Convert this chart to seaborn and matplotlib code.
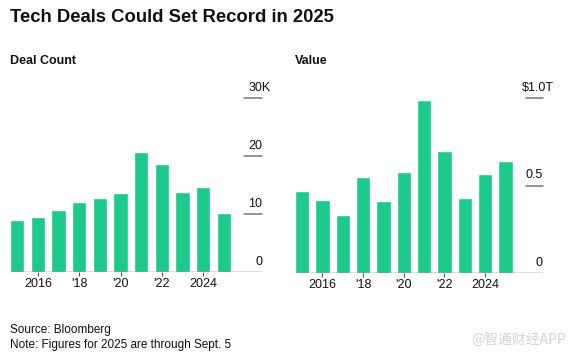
# Tech deals: contagem e valor por ano
import matplotlib
matplotlib.use("Agg")
import matplotlib.pyplot as plt
import seaborn as sns
import pandas as pd

# Dados
anos = [2015, 2016, 2017, 2018, 2019, 2020, 2021, 2022, 2023, 2024, 2025]
contagem = [9.0, 9.5, 10.7, 12.1, 12.8, 13.7, 20.7, 18.6, 13.8, 14.7, 10.1]   # milhares
valor = [0.47, 0.42, 0.33, 0.55, 0.41, 0.58, 0.99, 0.70, 0.43, 0.565, 0.64]    # US$ tri
x_ticks = [2016, 2018, 2020, 2022, 2024]
x_labels = ["2016", "'18", "'20", "'22", "2024"]
y_ticks_count = [0, 10, 20, 30]
y_labels_count = ["0", "10", "20", "30K"]
y_ticks_val = [0, 0.5, 1.0]
y_labels_val = ["0", "0.5", "$1.0T"]

sns.set_theme(style="white")
plt.rcParams['font.family'] = ['Liberation Sans', 'DejaVu Sans']

verde = "#1ec98c"
W, H = 572, 358
fig = plt.figure(figsize=(W / 100, H / 100), dpi=100)
fig.patch.set_facecolor("white")

df = pd.DataFrame({"ano": anos, "contagem": contagem, "valor": valor})


def painel(rect, col, ymax, ticks, labels, titulo, pad_last):
    x0, y_zero, x1, y_top = rect
    ax = fig.add_axes([x0 / W, 1 - y_zero / H, (x1 - x0) / W, (y_zero - y_top) / H])
    sns.barplot(data=df, x="ano", y=col, native_scale=True, width=0.7,
                color=verde, saturation=1, ax=ax)
    ax.set_xlim(2014.65, 2026.85)
    ax.set_ylim(0, ymax)
    for s in ax.spines.values():
        s.set_visible(False)
    ax.set_xlabel("")
    ax.set_ylabel("")
    ax.set_yticks([])
    ax.set_xticks(x_ticks)
    ax.set_xticklabels(x_labels, fontsize=9, color="#111111")
    ax.tick_params(axis="x", bottom=True, length=3, width=0.8, color="#555555", pad=1)
    ax.axhline(0, color="#555555", lw=1.0, zorder=3)
    for v, lab in zip(ticks[1:], labels[1:]):
        ax.axhline(v, xmin=0.93, xmax=1.0, color="#777777", lw=1.1, clip_on=False)
    for i, (v, lab) in enumerate(zip(ticks, labels)):
        xr = 1.0 + (pad_last if i == len(ticks) - 1 else 0)
        ax.annotate(lab, xy=(xr, v), xycoords=("axes fraction", "data"),
                    xytext=(0, 3), textcoords="offset points",
                    ha="right", va="bottom", fontsize=9, color="#111111",
                    annotation_clip=False)
    fig.text(x0 / W, 1 - 61 / H, titulo, fontsize=9, fontweight="bold",
             va="center", ha="left", color="#111111")
    return ax


painel((10, 272, 262, 98), "contagem", 30, y_ticks_count, y_labels_count,
       "Deal Count", 0.036)
painel((295, 273, 543, 98), "valor", 1.0, y_ticks_val, y_labels_val,
       "Value", 0.044)

fig.text(10 / W, 1 - 17 / H, "Tech Deals Could Set Record in 2025",
         fontsize=13.3, fontweight="bold", va="center", ha="left", color="#111111")
fig.text(10 / W, 1 - 330 / H, "Source: Bloomberg", fontsize=8.5, va="center", color="#111111")
fig.text(10 / W, 1 - 345 / H, "Note: Figures for 2025 are through Sept. 5",
         fontsize=8.5, va="center", color="#111111")
fig.text(566 / W, 1 - 340 / H, "@智通财经APP", fontsize=10, va="center", ha="right",
         color="#d4d4d4", family=["Noto Sans CJK SC", "DejaVu Sans"])

fig.savefig("out.png", dpi=100, facecolor="white")
